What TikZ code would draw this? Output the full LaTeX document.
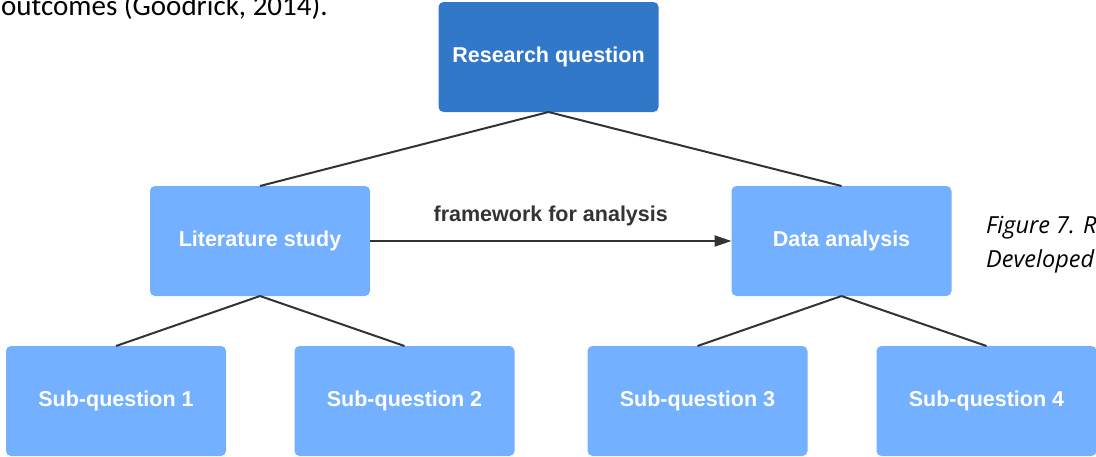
\documentclass[tikz,border=0pt]{standalone}
\usepackage{fontspec}
\setmainfont{Carlito}
\newfontfamily\boxfont{Liberation Sans}
\newfontfamily\capfont{Open Sans}
\usetikzlibrary{arrows.meta}
\definecolor{deepblue}{HTML}{3178C8}
\definecolor{softblue}{HTML}{73B0FF}
\definecolor{linegray}{HTML}{333333}

\begin{document}
\begin{tikzpicture}[x = 1pt, y = -1pt,
	block/.style = {rectangle, rounded corners = 5pt, fill = softblue, text = white,
		minimum width = 220pt, minimum height = 110pt, inner sep = 0pt, outer sep = 0pt,
		font = \boxfont\bfseries\fontsize{21.5pt}{24pt}\selectfont},
	link/.style = {draw = linegray, line width = 2pt},
	bodytext/.style = {anchor = base west, inner sep = 0pt, text = black}]

	\clip (0,0) rectangle (1096,456);

	\node [bodytext, font = \fontsize{29pt}{34pt}\selectfont] (cite) at (1,15.5) {outcomes (Goodrick, 2014).};

	\node [bodytext, font = \capfont\itshape\fontsize{23.5pt}{34pt}\selectfont] (figcap) at (986,233) {Figure 7. R};
	\node [bodytext, font = \capfont\itshape\fontsize{23.5pt}{34pt}\selectfont] (figsub) at (986,267) {Developed};


	\node [block, fill = deepblue] 	(rq) 	at (548.5,57) 	{Research question};

	\node [block] 	(lit) 	at (260,241) 	{Literature study};
	\node [block] 	(data) 	at (841.5,241) 	{Data analysis};

	\node [block] 	(sq1) 	at (116,401) 	{Sub-question 1};
	\node [block] 	(sq2) 	at (404.5,401) 	{Sub-question 2};
	\node [block] 	(sq3) 	at (697.5,401) 	{Sub-question 3};
	\node [block] 	(sq4) 	at (986.5,401) 	{Sub-question 4};

	\draw [link] 	(rq.south) -- (lit.north);
	\draw [link] 	(rq.south) -- (data.north);

	\draw [link] 	(lit.south) -- (sq1.north);
	\draw [link] 	(lit.south) -- (sq2.north);

	\draw [link] 	(data.south) -- (sq3.north);
	\draw [link] 	(data.south) -- (sq4.north);

	\draw [link, -{Triangle[length = 17pt, width = 11pt]}] 	(lit.east) -- (data.west)
		node [midway, anchor = base, yshift = 19.5pt, inner sep = 0pt,
			font = \boxfont\bfseries\fontsize{21.5pt}{24pt}\selectfont, text = linegray] {framework for analysis};

\end{tikzpicture}
\end{document}
